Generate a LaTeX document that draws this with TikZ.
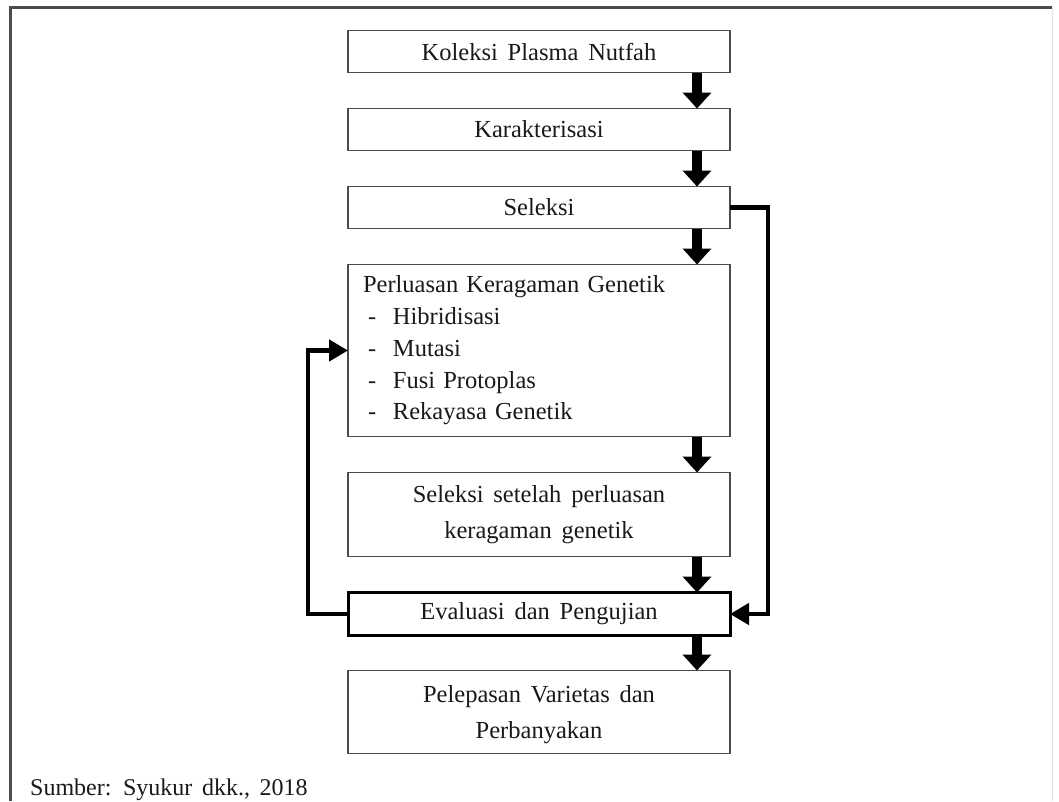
\documentclass[tikz,border=0pt]{standalone}
\usepackage{fontspec}
\setmainfont[WordSpace=1.6]{Liberation Serif}
\usetikzlibrary{arrows.meta,positioning}

\begin{document}
\begin{tikzpicture}[x=1pt, y=-1pt,
    node distance=36pt,
    bx/.style={draw=black!70, line width=1.4pt, fill=white, text=black!90,
               font=\fontsize{24.5}{36}\selectfont, align=center, outer sep=0pt,
               minimum width=382pt, minimum height=42pt, inner sep=0pt},
    bxk/.style={bx, draw=black, line width=3pt},
    blk/.style={-{Triangle[width=28pt,length=16pt]}, line width=10pt},
    fb/.style={-{Triangle[width=21pt,length=19pt]}, line width=4.5pt},
    frm/.style={draw=black!70, line width=3pt}
  ]
    \useasboundingbox (0,0) rectangle (1059,801);

    %% ── frame ──
    \draw[frm] (10,801) -- (10,7) -- (1052,7);
    \draw[draw=black!12, line width=1pt] (1052,7) -- (1052,801);

    %% ── flow ──
    \node[bx]                                (kol) at (539,51.5) {Koleksi Plasma Nutfah};
    \node[bx, below=of kol]                  (kar)               {Karakterisasi};
    \node[bx, below=of kar]                  (sel)               {Seleksi};
    \node[bx, below=of sel, minimum height=172pt, text width=352pt, align=left,
          font=\fontsize{24.5}{31.8}\selectfont] (per)
          {Perluasan Keragaman Genetik\\
           \makebox[30pt][l]{\hspace{5pt}-}Hibridisasi\\
           \makebox[30pt][l]{\hspace{5pt}-}Mutasi\\
           \makebox[30pt][l]{\hspace{5pt}-}Fusi Protoplas\\
           \makebox[30pt][l]{\hspace{5pt}-}Rekayasa Genetik};
    \node[bx, below=of per, minimum height=84pt] (ssp) {Seleksi setelah perluasan\\keragaman genetik};
    \node[bxk, below=of ssp, minimum height=43pt] (eva) {Evaluasi dan Pengujian};
    \node[bx, below=35pt of eva, minimum height=83pt, text depth=-6pt] (pel) {Pelepasan Varietas dan\\Perbanyakan};

    %% ── sumber ──
    \node[anchor=base west, inner sep=0pt, text=black!90,
          font=\fontsize{24}{28}\selectfont] (src) at (30,795) {Sumber: Syukur dkk., 2018};

    %% ── panah ──
    \coordinate (ax) at (697,0);
    \coordinate (rx) at (768,0);
    \coordinate (lx) at (308,0);
    \draw[blk] (kol.south -| ax) -- (kar.north -| ax);
    \draw[blk] (kar.south -| ax) -- (sel.north -| ax);
    \draw[blk] (sel.south -| ax) -- (per.north -| ax);
    \draw[blk] (per.south -| ax) -- (ssp.north -| ax);
    \draw[blk] (ssp.south -| ax) -- (eva.north -| ax);
    \draw[blk] (eva.south -| ax) -- (pel.north -| ax);
    \draw[fb] (sel.east) -- (sel.east -| rx) |- (eva.east);
    \draw[fb] (eva.west) -- (eva.west -| lx) |- (per.west);
\end{tikzpicture}
\end{document}
